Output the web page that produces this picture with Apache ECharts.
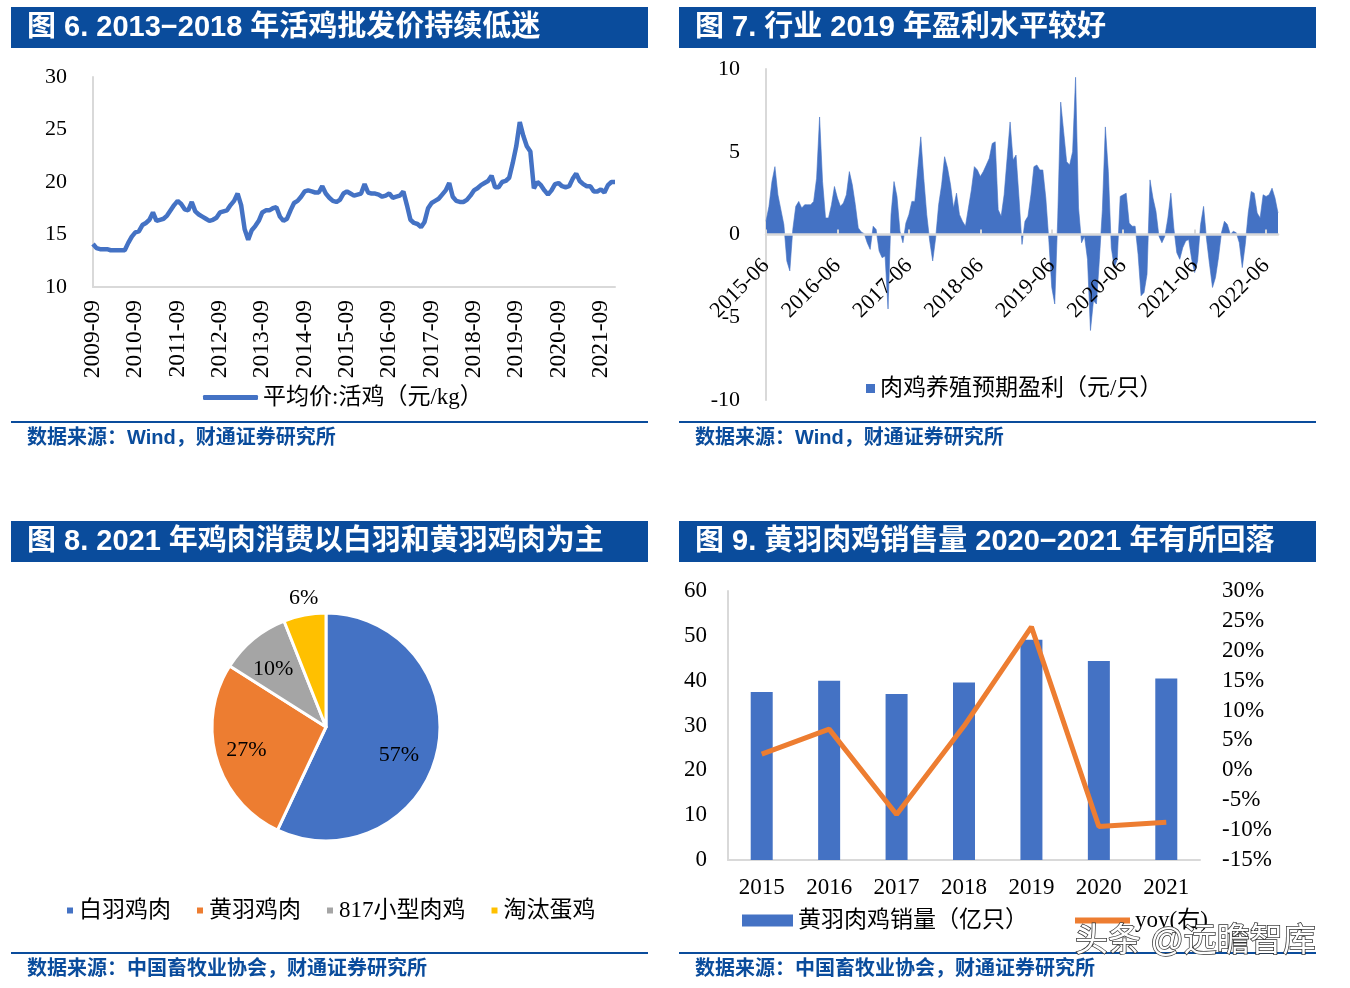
<!DOCTYPE html>
<html><head><meta charset="utf-8">
<script src="https://cdn.jsdelivr.net/npm/echarts@6/dist/echarts.min.js"></script>
<style>html,body{margin:0;padding:0;background:#fff}#c{width:1350px;height:988px}</style>
</head><body><div id="c"></div>
<script>
// ---------- Figure 6: live chicken wholesale price (monthly, from 2009-09) ----------
const priceName = '平均价:活鸡（元/kg）';
const priceValues = [
 14.1,13.7,13.6,13.6,13.6,13.5,13.5,13.5,13.5,13.5,14.2,14.8,
 15.2,15.3,15.9,16.1,16.4,17.1,16.3,16.4,16.5,16.8,17.3,17.8,
 18.2,17.9,17.4,17.3,18.1,17.2,16.9,16.7,16.5,16.3,16.4,16.6,
 17.1,17.2,17.3,17.8,18.2,18.9,17.8,15.5,14.5,15.4,15.8,16.3,
 17.1,17.3,17.3,17.5,17.6,16.7,16.3,16.5,17.3,18.0,18.2,18.6,
 19.1,19.2,19.1,19.0,19.0,19.6,18.9,18.5,18.2,18.1,18.3,18.9,
 19.1,18.9,18.7,18.8,18.9,19.8,19.0,18.9,18.9,18.8,18.6,18.7,
 18.9,18.5,18.6,18.7,19.1,17.8,16.4,16.1,16.0,15.7,16.2,17.5,
 18.0,18.2,18.4,18.8,19.2,19.9,18.6,18.2,18.1,18.1,18.3,18.7,
 19.2,19.4,19.7,19.9,20.1,20.6,19.5,19.5,20.0,20.1,20.4,21.8,
 23.4,25.7,24.4,23.4,22.9,19.4,20.0,19.7,19.2,18.8,19.2,19.8,
 19.9,19.6,19.5,19.6,20.3,20.8,20.1,19.8,19.6,19.6,19.1,19.1,
 19.3,19.0,19.7,20.0,20.0
];
// ---------- Figure 7: expected broiler profit (semi-monthly, from 2015-06) ----------
const profitName = '肉鸡养殖预期盈利（元/只）';
const profitValues = [
 0.8,1.7,3.2,4.1,2.4,1.5,0.6,-1.6,-2.2,0.3,1.7,2.0,1.6,1.8,1.8,1.8,2.0,3.4,7.1,3.2,1.0,1.0,1.8,2.9,
 2.2,1.7,1.9,2.4,3.8,3.0,1.8,0.4,0.15,0.05,-0.5,-0.9,0.5,0.3,-1.0,-1.4,-1.3,-4.5,1.2,3.2,2.3,0.2,-0.5,0.7,
 1.2,2.0,2.0,4.0,5.9,3.4,1.2,-0.4,-1.6,-0.2,1.8,3.0,4.7,4.0,3.0,1.6,2.5,1.2,0.8,0.5,1.6,2.7,4.1,3.9,
 3.5,3.8,4.2,4.6,5.5,5.6,1.5,1.1,2.4,4.6,6.8,4.5,4.8,2.2,-0.6,0.8,1.1,2.4,4.1,4.2,3.9,3.9,2.2,-0.3,
 -3.2,-4.2,1.0,8.0,6.2,4.4,4.2,5.0,9.5,1.6,-0.5,-0.1,-1.5,-5.8,-4.0,-4.2,-1.5,1.5,6.5,3.8,-0.8,-2.0,-1.5,2.3,
 2.4,2.5,0.7,0.5,0.5,-1.2,-3.7,-3.5,-2.4,3.3,2.2,1.4,-0.1,-0.5,-0.1,1.0,2.5,0.4,-1.1,-1.5,-0.8,-0.4,-0.3,-1.5,
 -2.3,-1.6,0.6,1.7,-0.3,-1.8,-3.2,-2.6,-1.4,0.1,0.8,0.6,0.0,0.2,0.1,-0.5,-2.0,-0.6,1.3,2.6,2.5,1.3,1.0,2.4,
 2.3,2.4,2.8,2.2,1.3
];
// ---------- Figure 8: 2021 chicken meat consumption structure ----------
const pieNames = ['白羽鸡肉', '黄羽鸡肉', '817小型肉鸡', '淘汰蛋鸡'];
const pieValues = [57, 27, 10, 6];
const pieColors = ['#4472C4', '#ED7D31', '#A5A5A5', '#FFC000'];
// ---------- Figure 9: yellow-feather broiler sales ----------
const salesName = '黄羽肉鸡销量（亿只）';
const yoyName = 'yoy(右)';
const salesYears = ['2015', '2016', '2017', '2018', '2019', '2020', '2021'];
const salesValues = [37.5, 40.0, 37.0, 39.6, 49.1, 44.4, 40.5];
const yoyValues = [2.7, 6.9, -7.4, 7.4, 24.0, -9.4, -8.7];

// axis category labels
function monthSeq(y, m, n) {
  const out = [];
  for (let i = 0; i < n; i++) { const t = (m - 1) + i; out.push((y + Math.floor(t / 12)) + '-' + String(t % 12 + 1).padStart(2, '0')); }
  return out;
}
const priceCategories = monthSeq(2009, 9, priceValues.length);
const profitMonths = monthSeq(2015, 6, Math.ceil(profitValues.length / 2));
const profitCategories = profitValues.map((v, i) => profitMonths[Math.floor(i / 2)] + (i % 2 ? '-16' : '-01'));

const SERIF = "'Liberation Serif','Times New Roman',serif";
const CJK = "'Liberation Serif','Noto Sans CJK SC',serif";
const SANS = "'Liberation Sans','Noto Sans CJK SC',sans-serif";
const BAR_BLUE = '#0A4C9C';
const GRAY = '#D9D9D9';

function titleBar(x, y, text) {
  return [
    { type: 'rect', shape: { x: x, y: y, width: 637, height: 41 }, style: { fill: BAR_BLUE } },
    { type: 'text', x: x + 16, y: y + 21, style: { text: text, fill: '#fff', font: 'bold 29px ' + SANS, verticalAlign: 'middle' } }
  ];
}
function sourceBlock(x, y, text) {
  return [
    { type: 'line', shape: { x1: x, y1: y, x2: x + 637, y2: y }, style: { stroke: BAR_BLUE, lineWidth: 2 } },
    { type: 'text', x: x + 16, y: y + 16, style: { text: text, fill: BAR_BLUE, font: 'bold 20px ' + SANS, verticalAlign: 'middle' } }
  ];
}

const axisLabelSerif = { fontSize: 22, fontFamily: SERIF, color: '#000' };
const legendText = { fontSize: 23, fontFamily: CJK, color: '#000' };

const chart = echarts.init(document.getElementById('c'), null, { renderer: 'canvas' });
chart.setOption({
  backgroundColor: '#fff',
  animation: false,
  graphic: [].concat(
    titleBar(11, 7, '图 6. 2013−2018 年活鸡批发价持续低迷'),
    titleBar(679, 7, '图 7. 行业 2019 年盈利水平较好'),
    titleBar(11, 521, '图 8. 2021 年鸡肉消费以白羽和黄羽鸡肉为主'),
    titleBar(679, 521, '图 9. 黄羽肉鸡销售量 2020−2021 年有所回落'),
    sourceBlock(11, 422, '数据来源：Wind，财通证券研究所'),
    sourceBlock(679, 422, '数据来源：Wind，财通证券研究所'),
    sourceBlock(11, 953, '数据来源：中国畜牧业协会，财通证券研究所'),
    sourceBlock(679, 953, '数据来源：中国畜牧业协会，财通证券研究所'),
    [{ type: 'text', x: 1075, y: 942, z: 100, style: { text: '头条 @远瞻智库', fill: '#fff', stroke: '#333', lineWidth: 1.5, font: '33px ' + SANS, verticalAlign: 'middle' } }]
  ),
  grid: [
    { left: 93, top: 77, width: 522, height: 210 },
    { left: 766, top: 69, width: 512, height: 331 },
    { left: 728, top: 591, width: 472, height: 269 }
  ],
  xAxis: [
    { gridIndex: 0, type: 'category', data: priceCategories, boundaryGap: false,
      axisLine: { lineStyle: { color: GRAY, width: 2 } }, axisTick: { show: false },
      axisLabel: Object.assign({ interval: 11, rotate: 90, margin: 13 }, axisLabelSerif, { fontSize: 23.5 }) },
    { gridIndex: 1, type: 'category', data: profitCategories, boundaryGap: false, z: 10, offset: -165.5,
      axisLine: { onZero: false, lineStyle: { color: GRAY, width: 2.5 } },
      axisTick: { show: true, interval: 23, inside: true, length: 5, lineStyle: { color: GRAY, width: 2 } },
      axisLabel: Object.assign({ interval: 23, rotate: 45, margin: 28, formatter: v => v.slice(0, 7) }, axisLabelSerif) },
    { gridIndex: 2, type: 'category', data: salesYears, boundaryGap: true,
      axisLine: { lineStyle: { color: GRAY, width: 2 } }, axisTick: { show: false },
      axisLabel: Object.assign({ margin: 16 }, axisLabelSerif, { fontSize: 23 }) }
  ],
  yAxis: [
    { gridIndex: 0, type: 'value', min: 10, max: 30, interval: 5,
      axisLine: { show: true, lineStyle: { color: GRAY, width: 2 } }, axisTick: { show: false }, splitLine: { show: false },
      axisLabel: Object.assign({ margin: 26 }, axisLabelSerif) },
    { gridIndex: 1, type: 'value', min: -10, max: 10, interval: 5,
      axisLine: { show: true, onZero: false, lineStyle: { color: GRAY, width: 2 } }, axisTick: { show: false }, splitLine: { show: false },
      axisLabel: Object.assign({ margin: 26 }, axisLabelSerif) },
    { gridIndex: 2, type: 'value', min: 0, max: 60, interval: 10,
      axisLine: { show: true, lineStyle: { color: GRAY, width: 2 } }, axisTick: { show: false }, splitLine: { show: false },
      axisLabel: Object.assign({ margin: 21 }, axisLabelSerif, { fontSize: 23 }) },
    { gridIndex: 2, type: 'value', position: 'right', min: -15, max: 30, interval: 5,
      axisLine: { show: false }, axisTick: { show: false }, splitLine: { show: false },
      axisLabel: Object.assign({ margin: 22, formatter: '{value}%' }, axisLabelSerif, { fontSize: 23 }) }
  ],
  legend: [
    { data: [priceName], left: 203, top: 386, padding: 0, selectedMode: false, icon: 'roundRect', itemWidth: 55, itemHeight: 5, textStyle: legendText },
    { data: [profitName], left: 866, top: 377, padding: 0, selectedMode: false, icon: 'rect', itemWidth: 9, itemHeight: 9, textStyle: legendText },
    { data: pieNames, left: 65, top: 899, padding: 0, selectedMode: false, icon: 'rect', itemWidth: 8, itemHeight: 8, itemGap: 24, textStyle: legendText },
    { data: [salesName], left: 742, top: 909, padding: 0, selectedMode: false, icon: 'rect', itemWidth: 51, itemHeight: 12, textStyle: legendText },
    { data: [yoyName], left: 1075, top: 909, padding: 0, selectedMode: false, icon: 'rect', itemWidth: 55, itemHeight: 6, textStyle: legendText }
  ],
  series: [
    { type: 'line', name: priceName, xAxisIndex: 0, yAxisIndex: 0, data: priceValues, symbol: 'none',
      lineStyle: { width: 4.5, color: '#4472C4' }, itemStyle: { color: '#4472C4' } },
    { type: 'line', name: profitName, xAxisIndex: 1, yAxisIndex: 1, data: profitValues, symbol: 'none',
      lineStyle: { width: 0.6, color: '#4472C4' }, itemStyle: { color: '#4472C4' },
      areaStyle: { color: '#4472C4', opacity: 1 } },
    { type: 'pie', name: 'consumption', center: [326, 727], radius: 114, startAngle: 90, clockwise: true,
      data: pieNames.map((n, i) => ({ name: n, value: pieValues[i], itemStyle: { color: pieColors[i] } })),
      label: { show: false }, labelLine: { show: false }, itemStyle: { borderColor: '#fff', borderWidth: 3 }, silent: true },
    { type: 'pie', name: 'labelsInner', center: [326, 727], radius: 160, startAngle: 90, silent: true,
      data: [
        { name: pieNames[0], value: pieValues[0], label: { show: true, offset: [-8, 10] } },
        { name: pieNames[1], value: pieValues[1], label: { show: true } },
        { name: pieNames[2], value: pieValues[2], label: { show: true, offset: [0, 6] } },
        { name: pieNames[3], value: pieValues[3], label: { show: false } }
      ],
      itemStyle: { color: 'rgba(0,0,0,0)' }, labelLine: { show: false },
      label: { position: 'inside', formatter: p => p.value + '%', fontSize: 22, fontFamily: SERIF, color: '#000' } },
    { type: 'pie', name: 'labelsOuter', center: [326, 727], radius: 264, startAngle: 90, silent: true,
      data: pieNames.map((n, i) => ({ name: n, value: pieValues[i], label: { show: i === 3, offset: [3, 4] } })),
      itemStyle: { color: 'rgba(0,0,0,0)' }, labelLine: { show: false },
      label: { position: 'inside', formatter: p => p.value + '%', fontSize: 22, fontFamily: SERIF, color: '#000' } },
    { type: 'bar', name: salesName, xAxisIndex: 2, yAxisIndex: 2, data: salesValues, barWidth: 22,
      itemStyle: { color: '#4472C4' } },
    { type: 'line', name: yoyName, xAxisIndex: 2, yAxisIndex: 3, data: yoyValues, symbol: 'none',
      lineStyle: { width: 5, color: '#ED7D31' }, itemStyle: { color: '#ED7D31' } }
  ]
});
</script></body></html>
